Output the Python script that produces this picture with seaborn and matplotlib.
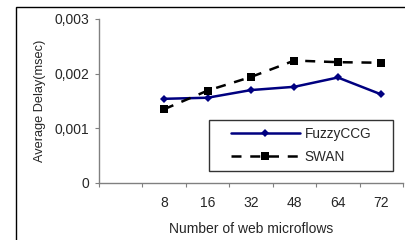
import matplotlib
matplotlib.use("Agg")
import matplotlib.pyplot as plt
import seaborn as sns
import pandas as pd
from matplotlib.patches import Rectangle
from matplotlib.ticker import FuncFormatter

categories = ["8", "16", "32", "48", "64", "72"]
fuzzyccg = [0.00154, 0.00156, 0.00170, 0.00176, 0.00193, 0.00162]
swan = [0.00135, 0.00169, 0.00194, 0.00224, 0.00221, 0.00220]
y_ticks = [0, 0.001, 0.002, 0.003]

sns.set_theme(style="white")
plt.rcParams["font.family"] = ["Liberation Sans", "DejaVu Sans"]

fig = plt.figure(figsize=(4.06, 2.40), dpi=100)
ax = fig.add_axes([99/406, 1-183/240, 304/406, 164/240])

pos = list(range(len(categories)))
df = pd.DataFrame({"pos": pos, "FuzzyCCG": fuzzyccg, "SWAN": swan})

sns.lineplot(data=df, x="pos", y="FuzzyCCG", ax=ax, color="#000080", lw=1.8,
             marker="D", markersize=4.2, markeredgewidth=0, label="FuzzyCCG")
sns.lineplot(data=df, x="pos", y="SWAN", ax=ax, color="black", lw=1.8,
             linestyle=(0, (4, 3.5)), marker="s", markersize=5.2, markeredgewidth=0,
             label="SWAN")

ax.set_xlim(-1.5, len(categories) - 0.5)
ax.set_ylim(0, 0.003)
ax.set_xticks(pos)
ax.set_xticklabels(categories)
ax.set_xticks([p - 0.5 for p in range(-1, len(categories) + 1)], minor=True)
ax.tick_params(axis="x", which="major", length=0, pad=9.5, labelsize=10)
ax.tick_params(axis="x", which="minor", length=3, width=0.8, color="#808080", direction="out", bottom=True)
ax.set_yticks(y_ticks)
ax.yaxis.set_major_formatter(FuncFormatter(lambda v, p: "0" if v == 0 else f"{v:.3f}".replace(".", ",")))
ax.tick_params(axis="y", length=3, width=0.8, color="#808080", direction="out", left=True, labelsize=10, pad=4)

for s in ["top", "right"]:
    ax.spines[s].set_visible(False)
for s in ["left", "bottom"]:
    ax.spines[s].set_color("#808080")
    ax.spines[s].set_linewidth(1.0)

ax.set_xlabel("Number of web microflows", fontsize=10, labelpad=8.5)
ax.set_ylabel("Average Delay(msec)", fontsize=9.2, labelpad=6)

ax.add_patch(Rectangle((110/304, 12/164), 184/304, 51/164, transform=ax.transAxes,
                       fill=False, edgecolor="#333333", lw=1.0, zorder=5))
leg = ax.legend(loc="center", bbox_to_anchor=(202/304, 37.5/164), fontsize=9.8,
                frameon=False, handlelength=5.1, handletextpad=0.35,
                labelspacing=0.7, borderpad=0, borderaxespad=0)

fig.patches.append(Rectangle((16/406, -0.1), 1.2, 1 - 7/240 + 0.1, transform=fig.transFigure,
                             fill=False, edgecolor="black", lw=1.0))

fig.savefig("out.png", dpi=100)
